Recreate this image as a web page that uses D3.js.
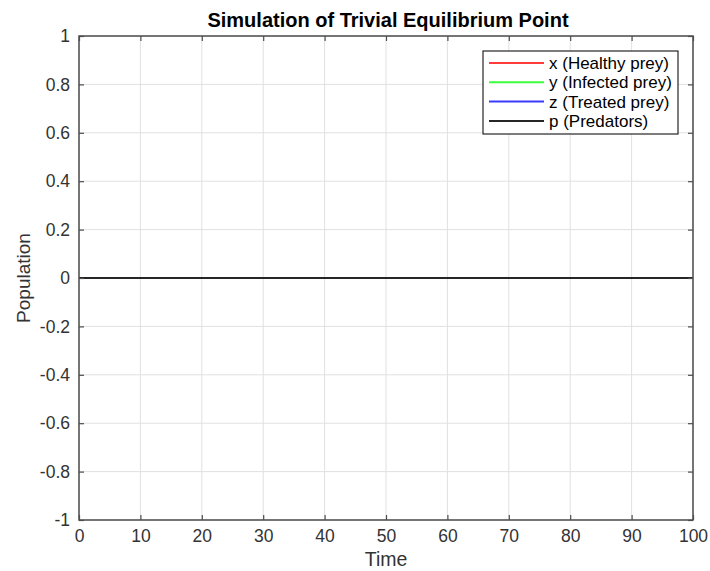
<!DOCTYPE html>
<html>
<head>
<meta charset="utf-8">
<script src="https://cdn.jsdelivr.net/npm/d3@7"></script>
<style>
  body { margin: 0; background: #fff; }
  svg { font-family: "Liberation Sans", Arial, sans-serif; }
</style>
</head>
<body>
<div id="chart"></div>
<script>
// simulation output at the trivial equilibrium: everything stays at zero
var time = [0, 10, 20, 30, 40, 50, 60, 70, 80, 90, 100];
var healthy = [0, 0, 0, 0, 0, 0, 0, 0, 0, 0, 0];
var infected = [0, 0, 0, 0, 0, 0, 0, 0, 0, 0, 0];
var treated = [0, 0, 0, 0, 0, 0, 0, 0, 0, 0, 0];
var predators = [0, 0, 0, 0, 0, 0, 0, 0, 0, 0, 0];
var seriesNames = ["x (Healthy prey)", "y (Infected prey)", "z (Treated prey)", "p (Predators)"];
var seriesColors = ["#ff3b3b", "#3bff3b", "#3b3bff", "#262626"];
var xTicks = [0, 10, 20, 30, 40, 50, 60, 70, 80, 90, 100];
var yTicks = [-1, -0.8, -0.6, -0.4, -0.2, 0, 0.2, 0.4, 0.6, 0.8, 1];

var width = 710, height = 571,
	plotLeft = 79, plotRight = 693, plotTop = 36, plotBottom = 520,
	axisColor = "#4d4d4d";

var svg = d3.select("#chart").append("svg")
	.attr("width", width)
	.attr("height", height);

var x = d3.scaleLinear().domain([0, 100]).range([plotLeft, plotRight]);
var y = d3.scaleLinear().domain([-1, 1]).range([plotBottom, plotTop]);

// grid
svg.append("g").selectAll("line")
	.data(xTicks).enter().append("line")
	.attr("x1", function (d) { return x(d); })
	.attr("x2", function (d) { return x(d); })
	.attr("y1", plotTop).attr("y2", plotBottom)
	.attr("stroke", "#e0e0e0").attr("stroke-width", 1);
svg.append("g").selectAll("line")
	.data(yTicks).enter().append("line")
	.attr("y1", function (d) { return y(d); })
	.attr("y2", function (d) { return y(d); })
	.attr("x1", plotLeft).attr("x2", plotRight)
	.attr("stroke", "#e0e0e0").attr("stroke-width", 1);

// data lines
var allSeries = [healthy, infected, treated, predators];
var line = d3.line()
	.x(function (d, i) { return x(time[i]); })
	.y(function (d) { return y(d); });
svg.append("g").selectAll("path")
	.data(allSeries).enter().append("path")
	.attr("d", line)
	.attr("fill", "none")
	.attr("stroke", function (d, i) { return seriesColors[i]; })
	.attr("stroke-width", 2);

// axes with inward ticks on all four sides
function styleAxis(g) {
	g.select(".domain").remove();
	g.selectAll(".tick line").attr("stroke", axisColor).attr("stroke-width", 1.2);
	g.selectAll(".tick text").attr("fill", "#333").attr("font-size", 17.5)
		.attr("font-family", "Liberation Sans, Arial, sans-serif");
}
svg.append("g").attr("transform", "translate(0," + plotBottom + ")")
	.call(d3.axisBottom(x).tickValues(xTicks).tickSizeInner(-5).tickPadding(10).tickFormat(d3.format("d")))
	.call(styleAxis);
svg.append("g").attr("transform", "translate(0," + plotTop + ")")
	.call(d3.axisTop(x).tickValues(xTicks).tickSizeInner(-5).tickFormat(""))
	.call(styleAxis);
svg.append("g").attr("transform", "translate(" + plotLeft + ",0)")
	.call(d3.axisLeft(y).tickValues(yTicks).tickSizeInner(-5).tickPadding(9)
		.tickFormat(function (d) { return String(+d.toFixed(1)); }))
	.call(styleAxis);
svg.append("g").attr("transform", "translate(" + plotRight + ",0)")
	.call(d3.axisRight(y).tickValues(yTicks).tickSizeInner(-5).tickFormat(""))
	.call(styleAxis);

// box
svg.append("rect")
	.attr("x", plotLeft).attr("y", plotTop)
	.attr("width", plotRight - plotLeft).attr("height", plotBottom - plotTop)
	.attr("fill", "none").attr("stroke", axisColor).attr("stroke-width", 1.5);

// title and labels
svg.append("text")
	.attr("x", 388).attr("y", 27)
	.attr("text-anchor", "middle")
	.attr("font-size", 20).attr("font-weight", "bold").attr("fill", "#000")
	.text("Simulation of Trivial Equilibrium Point");
svg.append("text")
	.attr("x", (plotLeft + plotRight) / 2).attr("y", 566)
	.attr("text-anchor", "middle")
	.attr("font-size", 19.5).attr("fill", "#333")
	.text("Time");
svg.append("text")
	.attr("transform", "translate(30," + ((plotTop + plotBottom) / 2) + ") rotate(-90)")
	.attr("text-anchor", "middle")
	.attr("font-size", 19).attr("fill", "#333")
	.text("Population");

// legend
var legend = svg.append("g").attr("transform", "translate(483,51)");
legend.append("rect")
	.attr("width", 195).attr("height", 83)
	.attr("fill", "#fff").attr("stroke", "#262626").attr("stroke-width", 1.2);
var rows = legend.selectAll("g.row")
	.data(seriesNames).enter().append("g")
	.attr("class", "row")
	.attr("transform", function (d, i) { return "translate(0," + (12 + i * 19.3) + ")"; });
rows.append("line")
	.attr("x1", 6).attr("x2", 61)
	.attr("stroke", function (d, i) { return seriesColors[i]; })
	.attr("stroke-width", 2);
rows.append("text")
	.attr("x", 66).attr("dy", "0.35em")
	.attr("font-size", 17).attr("fill", "#000")
	.text(function (d) { return d; });
</script>
</body>
</html>
